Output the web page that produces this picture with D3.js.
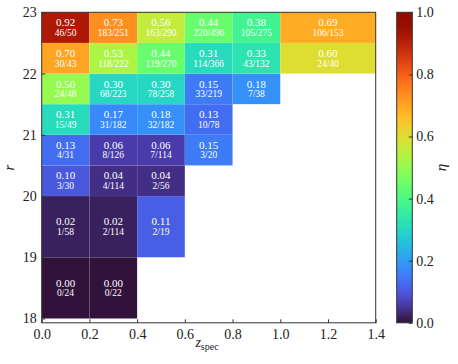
<!DOCTYPE html>
<html>
<head>
<meta charset="utf-8">
<script src="https://cdn.jsdelivr.net/npm/d3@7"></script>
<style>
  body { margin: 0; background: #fff; }
  svg text { font-family: 'Liberation Serif', 'Times New Roman', serif; }
</style>
</head>
<body>
<div id="chart"></div>
<script>
// bin edges
const zEdges = [0, 0.2, 0.4, 0.6, 0.8, 1.0, 1.4];
const rEdges = [18, 19, 20, 20.5, 21, 21.5, 22, 22.5, 23];

// one array per r-row, bottom row first; entries follow zEdges bins
const etaRows = [
  [0.00, 0.00],
  [0.02, 0.02, 0.11],
  [0.10, 0.04, 0.04],
  [0.13, 0.06, 0.06, 0.15],
  [0.31, 0.17, 0.18, 0.13],
  [0.50, 0.30, 0.30, 0.15, 0.18],
  [0.70, 0.53, 0.44, 0.31, 0.33, 0.60],
  [0.92, 0.73, 0.56, 0.44, 0.38, 0.69]
];
const passedRows = [
  [0, 0],
  [1, 2, 2],
  [3, 4, 2],
  [4, 8, 7, 3],
  [15, 31, 32, 10],
  [24, 68, 78, 33, 7],
  [30, 118, 119, 114, 43, 24],
  [46, 183, 163, 220, 105, 106]
];
const totalRows = [
  [24, 22],
  [58, 114, 19],
  [30, 114, 56],
  [31, 126, 114, 20],
  [49, 182, 182, 78],
  [48, 223, 258, 219, 38],
  [43, 222, 270, 366, 132, 40],
  [50, 251, 290, 496, 275, 153]
];
const xTicks = [0, 0.2, 0.4, 0.6, 0.8, 1.0, 1.2, 1.4];
const yTicks = [18, 19, 20, 21, 22, 23];
const cTicks = [0, 0.2, 0.4, 0.6, 0.8, 1.0];

const FONT = "'Liberation Serif', 'Times New Roman', serif";
const W = 458, H = 364;
const margin = { top: 12.3, left: 41.7 };
const plotW = 334, plotH = 310.5;

const svg = d3.select('#chart').append('svg')
  .attr('width', W).attr('height', H)
  .style('font-family', FONT);

const x = d3.scaleLinear().domain([0, 1.4]).range([margin.left, margin.left + plotW]);
const y = d3.scaleLinear().domain([17.93, 23]).range([margin.top + plotH, margin.top]);

// d3 turbo is darker than the matplotlib table right at 0, patch the low end
const lowEnd = d3.interpolateRgb('rgb(48,18,59)', d3.interpolateTurbo(0.03));
const color = t => t < 0.03 ? lowEnd(t / 0.03) : d3.interpolateTurbo(t);

// build cells from the row arrays
const cells = [];
etaRows.forEach((row, i) => {
  row.forEach((eta, j) => {
    cells.push({
      z0: zEdges[j], z1: zEdges[j + 1],
      r0: rEdges[i], r1: rEdges[i + 1],
      eta, k: passedRows[i][j], n: totalRows[i][j]
    });
  });
});

const g = svg.append('g');

g.selectAll('rect.cell')
  .data(cells)
  .enter()
  .append('rect')
  .attr('class', 'cell')
  .attr('x', d => x(d.z0))
  .attr('y', d => y(d.r1))
  .attr('width', d => x(d.z1) - x(d.z0))
  .attr('height', d => y(d.r0) - y(d.r1))
  .attr('fill', d => color(d.eta))
  .attr('stroke', 'rgba(255,255,255,0.08)')
  .attr('stroke-width', 0.5);

// cell labels
const lbl = g.selectAll('g.lbl')
  .data(cells)
  .enter()
  .append('g')
  .attr('transform', d => `translate(${(x(d.z0) + x(d.z1)) / 2},${(y(d.r0) + y(d.r1)) / 2})`);

lbl.append('text')
  .attr('y', -1.3)
  .attr('text-anchor', 'middle')
  .attr('font-family', FONT)
  .attr('font-size', 11)
  .attr('fill', '#fff')
  .text(d => d.eta.toFixed(2));

lbl.append('text')
  .attr('y', 8.3)
  .attr('text-anchor', 'middle')
  .attr('font-family', FONT)
  .attr('font-size', 9.5)
  .attr('fill', '#fff')
  .text(d => `${d.k}/${d.n}`);

// frame
svg.append('rect')
  .attr('x', margin.left).attr('y', margin.top)
  .attr('width', plotW).attr('height', plotH)
  .attr('fill', 'none').attr('stroke', '#333').attr('stroke-width', 1);

// axes with inward ticks
const xAxis = svg.append('g')
  .attr('transform', `translate(0,${margin.top + plotH})`)
  .call(d3.axisBottom(x).tickValues(xTicks).tickFormat(d3.format('.1f')).tickSizeInner(-3.5).tickSizeOuter(0).tickPadding(6));
const yAxis = svg.append('g')
  .attr('transform', `translate(${margin.left},0)`)
  .call(d3.axisLeft(y).tickValues(yTicks).tickFormat(d3.format('d')).tickSizeInner(-3.5).tickSizeOuter(0).tickPadding(5));

[xAxis, yAxis].forEach(a => {
  a.attr('font-family', FONT);
  a.select('.domain').remove();
  a.selectAll('line').attr('stroke', '#333');
  a.selectAll('text')
    .attr('font-family', FONT)
    .attr('font-size', 14)
    .attr('fill', '#222');
});

// axis labels
const xl = svg.append('text')
  .attr('x', 207).attr('y', 347)
  .attr('text-anchor', 'middle')
  .attr('font-family', FONT)
  .attr('font-size', 14)
  .attr('fill', '#222');
xl.append('tspan').attr('font-style', 'italic').text('z');
xl.append('tspan').attr('font-size', 10).attr('dy', 3).text('spec');

svg.append('text')
  .attr('transform', `translate(14,${margin.top + plotH / 2}) rotate(-90)`)
  .attr('text-anchor', 'middle')
  .attr('font-family', FONT)
  .attr('font-size', 15)
  .attr('font-style', 'italic')
  .attr('fill', '#222')
  .text('r');

// colorbar
const cb = { x: 396.7, w: 15.6, top: 12.3, bottom: 322.8 };
const grad = svg.append('defs').append('linearGradient')
  .attr('id', 'cbgrad')
  .attr('x1', 0).attr('y1', 1).attr('x2', 0).attr('y2', 0);
d3.range(0, 1.0001, 0.01).forEach(t => {
  grad.append('stop').attr('offset', t).attr('stop-color', color(t));
});
svg.append('rect')
  .attr('x', cb.x).attr('y', cb.top)
  .attr('width', cb.w).attr('height', cb.bottom - cb.top)
  .attr('fill', 'url(#cbgrad)')
  .attr('stroke', '#333').attr('stroke-width', 1);

const cy = d3.scaleLinear().domain([0, 1]).range([cb.bottom, cb.top]);
const cAxis = svg.append('g')
  .attr('transform', `translate(${cb.x + cb.w},0)`)
  .attr('font-family', FONT)
  .call(d3.axisRight(cy).tickValues(cTicks).tickFormat(d3.format('.1f')).tickSizeInner(-3.5).tickSizeOuter(0).tickPadding(4));
cAxis.select('.domain').remove();
cAxis.selectAll('line').attr('stroke', '#333');
cAxis.selectAll('text')
  .attr('font-family', FONT)
  .attr('font-size', 14)
  .attr('fill', '#222');

svg.append('text')
  .attr('transform', `translate(446,${(cb.top + cb.bottom) / 2}) rotate(-90)`)
  .attr('text-anchor', 'middle')
  .attr('font-family', FONT)
  .attr('font-size', 15)
  .attr('font-style', 'italic')
  .attr('fill', '#222')
  .text('η');
</script>
</body>
</html>
